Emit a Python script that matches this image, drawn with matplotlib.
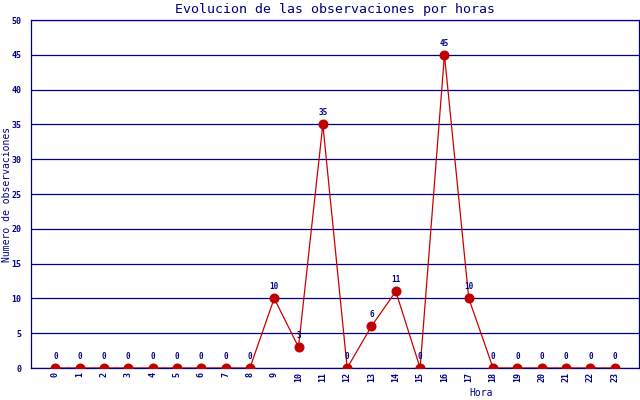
import matplotlib
matplotlib.use('Agg')
import matplotlib.pyplot as plt

# observaciones por hora
horas = list(range(24))
observaciones = [0, 0, 0, 0, 0, 0, 0, 0, 0, 10, 3, 35, 0, 6, 11, 0, 45, 10, 0, 0, 0, 0, 0, 0]

azul = '#000080'
rojo = '#cc0000'
fuente = 'DejaVu Sans Mono'

fig = plt.figure(figsize=(6.4, 4.0), dpi=100)
ax = fig.add_axes([31 / 640, 32 / 400, 608 / 640, 348 / 400])

ax.plot(horas, observaciones, color=rojo, linewidth=0.9, marker='o',
        markersize=6.2, markerfacecolor='#c00000', markeredgecolor='#c00000', zorder=3)

for h, v in zip(horas, observaciones):
    ax.annotate(str(v), (h, v), xytext=(0, 5), textcoords='offset points',
                ha='center', va='bottom', fontsize=5.5, color=azul,
                family=fuente, fontweight='bold', zorder=4)

ax.set_xlim(-1, 24)
ax.set_ylim(0, 50)
ax.set_yticks(range(0, 51, 5))
ax.set_xticks(horas)
ax.set_xticklabels([str(h) for h in horas], rotation=90)
ax.grid(axis='y', color=azul, linewidth=0.9)
ax.set_axisbelow(True)
ax.tick_params(length=0, colors=azul, labelsize=6)
ax.tick_params(axis='y', pad=7)
ax.tick_params(axis='x', pad=3)
for lbl in ax.get_xticklabels() + ax.get_yticklabels():
    lbl.set_family(fuente)
    lbl.set_fontweight('bold')

for s in ax.spines.values():
    s.set_color(azul)
    s.set_linewidth(0.9)

ax.set_title('Evolucion de las observaciones por horas', color=azul,
             family=fuente, fontsize=9.5, pad=5)
ax.set_ylabel('Numero de observaciones', color=azul, family=fuente, fontsize=7)
ax.yaxis.set_label_coords(-0.031, 0.5)
ax.set_xlabel('Hora', color=azul, family=fuente, fontsize=7)
ax.xaxis.set_label_coords(0.74, -0.058)

fig.savefig('out.png', dpi=100)
